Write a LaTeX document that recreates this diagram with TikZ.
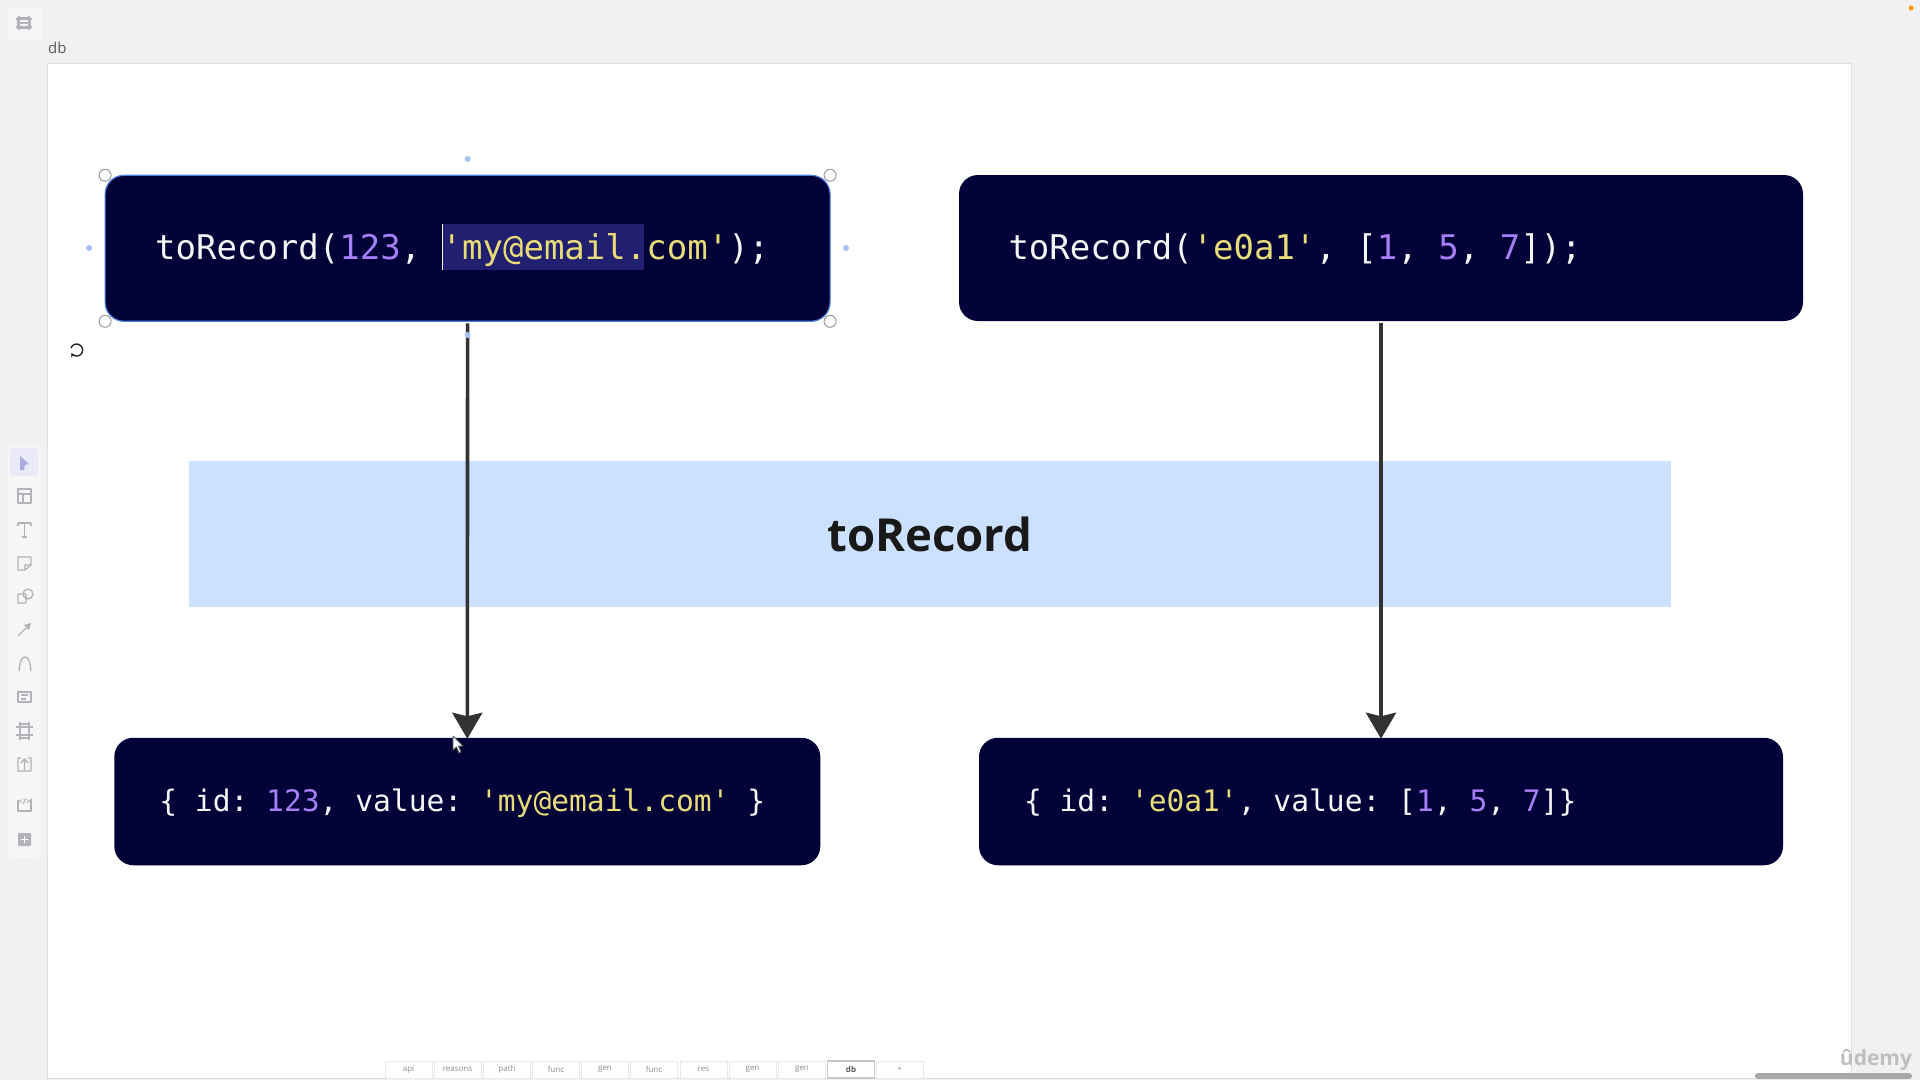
\documentclass[tikz,border=0pt]{standalone}
\usepackage{fontspec}
\setmainfont{Open Sans}
\setmonofont{DejaVu Sans Mono}
\usetikzlibrary{arrows.meta,calc}
\definecolor{pagebg}{HTML}{F1F1F1}
\definecolor{edgec}{HTML}{DEDEDE}
\definecolor{navy}{HTML}{020138}
\definecolor{numc}{HTML}{A57FF5}
\definecolor{strc}{HTML}{E8DC78}
\definecolor{codew}{HTML}{F6F6F6}
\definecolor{selbg}{HTML}{211F70}
\definecolor{band}{HTML}{CCE0FF}
\definecolor{arrowc}{HTML}{333333}
\definecolor{selblue}{HTML}{4D80E4}
\definecolor{dotblue}{HTML}{A6C2F5}
\definecolor{toolc}{HTML}{B2B2B8}
\definecolor{panelc}{HTML}{F6F6F6}
\definecolor{tilec}{HTML}{E9E9F7}
\definecolor{tilearrow}{HTML}{ABABE2}
\newcommand{\nm}[1]{\textcolor{numc}{#1}}
\newcommand{\st}[1]{\textcolor{strc}{#1}}
\newcommand{\codeline}[4]{\makebox[#1][l]{\raisebox{-#2}[0pt][0pt]{\fontsize{#3}{#3}\selectfont\ttfamily\color{codew}#4}}}
\tikzset{
  codebox/.style={fill=navy,rounded corners=19pt,inner ysep=0pt,outer sep=0pt},
  hnd/.style={circle,fill=white,draw=black!40,line width=1pt,minimum size=12pt,inner sep=0pt},
  bluedot/.style={circle,fill=dotblue,minimum size=6pt,inner sep=0pt},
  flow/.style={draw=arrowc,line width=3.6pt,-{Stealth[length=26pt,width=30pt,inset=3.5pt]}},
  tool/.style={draw=toolc,line width=1.3pt,line join=round},
  tabn/.style={draw=black!9,fill=white,line width=1pt,minimum width=47pt,minimum height=17pt,inner sep=0pt,font=\fontsize{8}{8}\selectfont,text=black!45},
}
\begin{document}
\begin{tikzpicture}[x=1pt,y=-1pt]
\useasboundingbox (0,0) rectangle (1920,1080);
\fill[pagebg] (0,0) rectangle (1920,1080);
% canvas
\fill[white,draw=edgec,line width=1pt] (47.5,63.5) rectangle (1851,1078);
\node[anchor=base west,inner sep=0pt,text=black!65,font=\fontsize{15}{15}\selectfont] (title) at (48,53) {db};
% toolbars
\fill[panelc,rounded corners=4pt] (8,8) rectangle (42,40);
\fill[panelc,rounded corners=4pt] (8,445) rectangle (41,858);
\fill[tilec,rounded corners=3pt] (10,448) rectangle (38,476);
\fill[tilearrow] (20,456) -- (29,464) -- (25,465) -- (24,470) -- (20,470) -- cycle;
\draw[tool] (18,18) rectangle (30,28) (16,19) -- (32,19) (16,27) -- (32,27) (19,16) -- (19,30) (29,16) -- (29,30) (18,23) -- (30,23);
\draw[tool] (18,489) rectangle (31,503) (18,494) -- (31,494) (23,494) -- (23,503);
\draw[tool] (18,523) -- (31,523) (24.5,523) -- (24.5,537) (22,537) -- (27,537) (18,523) -- (18,526) (31,523) -- (31,526);
\draw[tool] (18,557) -- (31,557) -- (31,565) -- (25,570) -- (18,570) -- cycle (25,570) -- (25,565) -- (31,565);
\draw[tool] (18,594) rectangle (26,603) (28,594) circle[radius=5pt];
\draw[tool] (18,636) -- (30,624);
\fill[toolc] (31,623) -- (24,625) -- (29,630) -- cycle;
\draw[tool] (19,671) .. controls (20,660) and (22,657) .. (25,657) .. controls (28,657) and (30,660) .. (31,671);
\draw[tool] (18,692) rectangle (31,702) (21,695) -- (28,695) (21,699) -- (26,699);
\draw[tool] (20,724) rectangle (29,738) (16,727) -- (33,727) (16,735) -- (33,735) (20,722) -- (20,740) (29,722) -- (29,740);
\draw[tool] (21,758) -- (18,758) -- (18,771) -- (31,771) -- (31,758) -- (28,758) (24.5,770) -- (24.5,760) (21,763) -- (24.5,759) -- (28,763);
\draw[tool] (18,800) -- (18,811) -- (31,811) -- (31,799);
\node[inner sep=0pt,text=toolc,font=\bfseries\fontsize{8}{8}\selectfont] (embed) at (24.5,802) {</>};
\fill[toolc,rounded corners=1pt] (18,833) rectangle (31,846);
\draw[white,line width=1.4pt] (21,839.5) -- (28,839.5) (24.5,836) -- (24.5,843);
% band
\node[fill=band,minimum width=1482pt,minimum height=146pt,inner sep=0pt,font=\bfseries\fontsize{45.5}{46}\selectfont,text=black!90] (fn) at (930,534) {toRecord};
% boxes
\node[codebox,minimum width=725pt,minimum height=146pt,inner xsep=50pt,draw=selblue,line width=1.2pt] (in1) at (467.6,248.3) {\codeline{625pt}{11pt}{34pt}{toRecord(\nm{123}, \makebox[0pt][l]{\textcolor{selbg}{\rule[-11pt]{202pt}{46pt}}}\makebox[0pt][l]{\textcolor{codew}{\rule[-11pt]{1pt}{46pt}}}\st{'my@email.com'});}};
\node[codebox,minimum width=844pt,minimum height=146pt,inner xsep=49.5pt] (in2) at (1381,248) {\codeline{745pt}{11pt}{34pt}{toRecord(\st{'e0a1'}, [\nm{1}, \nm{5}, \nm{7}]);}};
\node[codebox,minimum width=706pt,minimum height=127.5pt,inner xsep=45pt] (out1) at (467.3,801.5) {\codeline{616pt}{9.5pt}{29.6pt}{\{ id: \nm{123}, value: \st{'my@email.com'} \}}};
\node[codebox,minimum width=804pt,minimum height=127.5pt,inner xsep=45pt] (out2) at (1381,801.5) {\codeline{714pt}{9.5pt}{29.6pt}{\{ id: \st{'e0a1'}, value: [\nm{1}, \nm{5}, \nm{7}]\}}};
% arrows
\draw[flow,shorten <=2pt,shorten >=-1pt] (in1.south) -- (out1.north);
\draw[flow,shorten <=2pt,shorten >=-1pt] (in2.south) -- (out2.north);
% selection handles
\node[hnd] (h1) at (in1.north west) {};
\node[hnd] (h2) at (in1.north east) {};
\node[hnd] (h3) at (in1.south west) {};
\node[hnd] (h4) at (in1.south east) {};
\node[bluedot] (d1) at (467.6,159) {};
\node[bluedot] (d2) at (89,248) {};
\node[bluedot] (d3) at (846,248) {};
\node[bluedot] (d4) at (467.6,335) {};
% rotate handle
\draw[black!85,line width=1.4pt,-{Stealth[length=4pt,width=5pt]}] (71,348) arc[start angle=160,end angle=-150,radius=6pt];
% pointer
\fill[white,draw=black!65,line width=0.9pt,line join=round] (453,736) -- (453,750) -- (456.5,747) -- (459,753) -- (461,752) -- (458.5,746) -- (463,746) -- cycle;
% sheet tabs
\node[tabn] (t1) at (408.5,1069.5) {api};
\node[tabn] (t2) at (457.5,1069.5) {reasons};
\node[tabn] (t3) at (507,1069.5) {path};
\node[tabn] (t4) at (556,1069.5) {func};
\node[tabn] (t5) at (605,1069.5) {gen};
\node[tabn] (t6) at (654,1069.5) {func};
\node[tabn] (t7) at (703.5,1069.5) {res};
\node[tabn] (t8) at (752.5,1069.5) {gen};
\node[tabn] (t9) at (802,1069.5) {gen};
\node[tabn,draw=black!22,line width=1.6pt,text=black!65,font=\bfseries\fontsize{8}{8}\selectfont] (t10) at (851,1069.5) {db};
\node[tabn] (t11) at (900,1069.5) {+};
% scrollbar
\fill[black!34,rounded corners=3pt] (1755,1073) rectangle (1912,1079);
% watermark
\node[inner sep=0pt,font=\bfseries\fontsize{21}{21}\selectfont,text=black!25] (mark) at (1876,1060) {ûdemy};
% status dot
\fill[orange!80!yellow] (1911,8) circle[radius=2.5pt];
\end{tikzpicture}
\end{document}
